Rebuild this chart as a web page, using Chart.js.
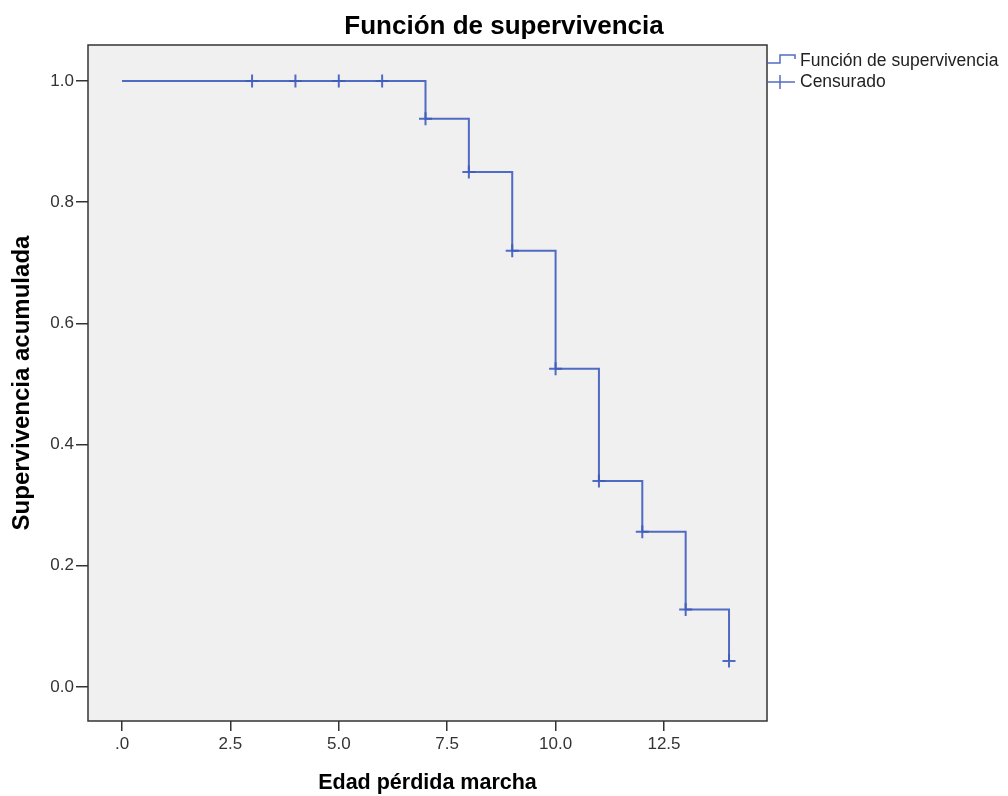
<!DOCTYPE html>
<html>
<head>
<meta charset="utf-8">
<script src="https://cdn.jsdelivr.net/npm/chart.js@4.4.1/dist/chart.umd.min.js"></script>
<style>
    html, body { margin: 0; padding: 0; background: #fff; }
    #contenedor { width: 1008px; height: 796px; }
</style>
</head>
<body>
<div id="contenedor"><canvas id="graficoSupervivencia"></canvas></div>
<script>
// datos (Kaplan-Meier)
var tiempos = [0, 7, 8, 9, 10, 11, 12, 13, 14];
var supervivencia = [1.0, 0.9375, 0.85, 0.72, 0.525, 0.34, 0.256, 0.128, 0.043];
var tiemposCensurados = [3, 4, 5, 6, 7, 8, 9, 10, 11, 12, 13, 14];
var valoresCensurados = [1.0, 1.0, 1.0, 1.0, 0.9375, 0.85, 0.72, 0.525, 0.34, 0.256, 0.128, 0.043];
var ticksX = [0, 2.5, 5, 7.5, 10, 12.5];
var etiquetasX = ['.0', '2.5', '5.0', '7.5', '10.0', '12.5'];
var ticksY = [0, 0.2, 0.4, 0.6, 0.8, 1.0];
var etiquetasY = ['0.0', '0.2', '0.4', '0.6', '0.8', '1.0'];
var nombresSeries = ['Función de supervivencia', 'Censurado'];

var azul = 'rgba(62, 92, 190, 0.9)';
var fuente = "'Liberation Sans', Arial, sans-serif";

var puntosCurva = tiempos.map(function (t, i) { return { x: t, y: supervivencia[i] }; });
var puntosCensura = tiemposCensurados.map(function (t, i) { return { x: t, y: valoresCensurados[i] }; });

// fondo gris, marco y leyenda al estilo SPSS
var fondoYMarco = {
    id: 'fondoYMarco',
    beforeDraw: function (chart) {
        var a = chart.chartArea, ctx = chart.ctx;
        ctx.save();
        ctx.fillStyle = '#f0f0f0';
        ctx.fillRect(a.left, a.top, a.right - a.left, a.bottom - a.top);
        ctx.restore();
    },
    afterDraw: function (chart) {
        var a = chart.chartArea, ctx = chart.ctx;
        ctx.save();
        ctx.strokeStyle = '#333';
        ctx.lineWidth = 1.5;
        ctx.strokeRect(a.left, a.top, a.right - a.left, a.bottom - a.top);

        // leyenda
        var x0 = a.right;
        ctx.strokeStyle = azul;
        ctx.lineWidth = 1.5;
        ctx.beginPath();
        ctx.moveTo(x0, 63);
        ctx.lineTo(x0 + 13, 63);
        ctx.lineTo(x0 + 13, 55);
        ctx.lineTo(x0 + 28, 55);
        ctx.lineTo(x0 + 28, 59);
        ctx.stroke();
        ctx.beginPath();
        ctx.moveTo(x0, 82);
        ctx.lineTo(x0 + 28, 82);
        ctx.moveTo(x0 + 13, 75);
        ctx.lineTo(x0 + 13, 89);
        ctx.stroke();
        ctx.fillStyle = '#222';
        ctx.font = '17.5px ' + fuente;
        ctx.textBaseline = 'middle';
        ctx.fillText(nombresSeries[0], x0 + 33, 61);
        ctx.fillText(nombresSeries[1], x0 + 33, 82);
        ctx.restore();
    }
};

var ctx = document.getElementById('graficoSupervivencia').getContext('2d');
var grafico = new Chart(ctx, {
    type: 'scatter',
    data: {
        datasets: [{
            type: 'line',
            label: nombresSeries[0],
            data: puntosCurva,
            borderColor: azul,
            borderWidth: 2,
            pointRadius: 0,
            stepped: 'before',
            fill: false
        }, {
            label: nombresSeries[1],
            data: puntosCensura,
            showLine: false,
            pointStyle: 'cross',
            pointRadius: 6.5,
            borderWidth: 2,
            borderColor: azul,
            backgroundColor: azul
        }]
    },
    options: {
        responsive: true,
        maintainAspectRatio: false,
        animation: false,
        devicePixelRatio: 1,
        layout: { padding: 0 },
        plugins: {
            legend: { display: false },
            tooltip: { enabled: false },
            title: {
                display: true,
                text: 'Función de supervivencia',
                color: '#000',
                font: { family: fuente, size: 26, weight: 'bold', lineHeight: 1.1 },
                padding: { top: 13, bottom: 3.4 }
            }
        },
        scales: {
            x: {
                type: 'linear',
                min: -0.784,
                max: 14.876,
                afterBuildTicks: function (eje) {
                    eje.ticks = ticksX.map(function (v) { return { value: v }; });
                },
                afterFit: function (eje) { eje.height = 75; },
                ticks: {
                    color: '#333',
                    font: { family: fuente, size: 17 },
                    padding: 3,
                    maxRotation: 0,
                    callback: function (valor) {
                        var i = ticksX.indexOf(valor);
                        return i >= 0 ? etiquetasX[i] : '';
                    }
                },
                grid: { drawOnChartArea: false, drawTicks: true, tickLength: 10, color: '#333', lineWidth: 1.5 },
                border: { display: false },
                title: {
                    display: true,
                    text: 'Edad pérdida marcha',
                    color: '#000',
                    font: { family: fuente, size: 21.5, weight: 'bold', lineHeight: 1.2 },
                    padding: { top: 0, bottom: 0 }
                }
            },
            y: {
                type: 'linear',
                min: -0.0561,
                max: 1.0594,
                afterBuildTicks: function (eje) {
                    eje.ticks = ticksY.map(function (v) { return { value: v }; });
                },
                afterFit: function (eje) { eje.width = 88; },
                ticks: {
                    color: '#333',
                    font: { family: fuente, size: 17 },
                    padding: 2,
                    callback: function (valor) {
                        var i = ticksY.indexOf(valor);
                        return i >= 0 ? etiquetasY[i] : '';
                    }
                },
                grid: { drawOnChartArea: false, drawTicks: true, tickLength: 12, color: '#333', lineWidth: 1.5 },
                border: { display: false },
                title: {
                    display: true,
                    text: 'Supervivencia acumulada',
                    color: '#000',
                    font: { family: fuente, size: 24, weight: 'bold', lineHeight: 1.2 },
                    padding: { top: 8, bottom: 0 }
                }
            },
            // eje vacio a la derecha: deja sitio para la leyenda
            derecha: {
                type: 'linear',
                position: 'right',
                display: true,
                afterFit: function (eje) { eje.width = 241; },
                ticks: { display: false },
                grid: { display: false },
                border: { display: false }
            }
        }
    },
    plugins: [fondoYMarco]
});
</script>
</body>
</html>
